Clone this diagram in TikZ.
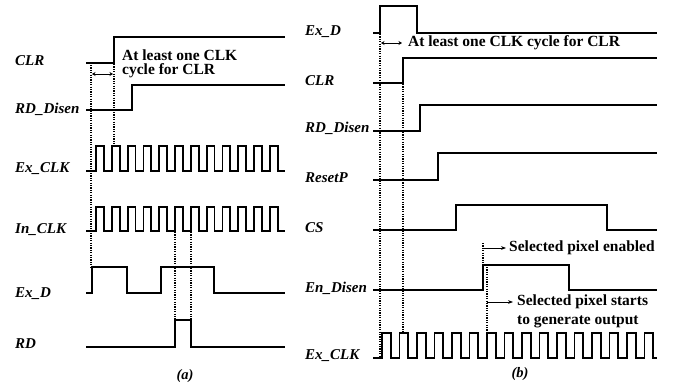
\documentclass[tikz,border=0pt]{standalone}
\usepackage{fontspec}
\setmainfont{Liberation Serif}
\usetikzlibrary{arrows.meta}

\begin{document}
\begin{tikzpicture}[x=1pt, y=-1pt,
  wave/.style={line width=1.8pt},
  guide/.style={line width=1.3pt, dash pattern=on 1.2pt off 1.2pt},
  lbl/.style={anchor=base west, inner sep=0pt, font=\fontsize{15}{15}\selectfont\bfseries\itshape},
  note/.style={anchor=north west, inner sep=0pt, align=left, font=\fontsize{15.5}{14}\selectfont\bfseries},
  captext/.style={inner sep=0pt, font=\fontsize{14.5}{14.5}\selectfont\bfseries\itshape},
  span/.style={line width=1pt, {Stealth[length=3.5pt,width=4pt]}-{Stealth[length=3.5pt,width=4pt]}, shorten <=1pt, shorten >=1pt},
  hint/.style={line width=1pt, -{Stealth[length=5pt]}}]
\useasboundingbox[fill=white] (0,0) rectangle (678,389);

% (a)
\node[lbl] (clrA) at (15,65) {CLR};
\node[lbl] (rdA) at (15,113) {RD\_Disen};
\node[lbl] (exclkA) at (15,172) {Ex\_CLK};
\node[lbl] (inclkA) at (15,233) {In\_CLK};
\node[lbl] (exdA) at (15,297) {Ex\_D};
\node[lbl] (rdoutA) at (15,348) {RD};

\draw[wave] (86,63) -- (114,63) -- (114,37) -- (285,37);
\draw[wave] (86,110) -- (132,110) -- (132,85) -- (285,85);
\draw[wave] (86,171) \foreach \k in {0,...,11} {
  -- ({96+15.8*\k},171) -- ({96+15.8*\k},146) -- ({103.9+15.8*\k},146) -- ({103.9+15.8*\k},171)} -- (285,171);
\draw[wave] (86,231) \foreach \k in {0,...,11} {
  -- ({96+15.8*\k},231) -- ({96+15.8*\k},207) -- ({103.9+15.8*\k},207) -- ({103.9+15.8*\k},231)} -- (285,231);
\draw[wave] (86,293) -- (92,293) -- (92,267) -- (127,267) -- (127,293) -- (161,293) -- (161,267)
  -- (214,267) -- (214,293) -- (285,293);
\draw[wave] (86,347) -- (175,347) -- (175,320) -- (191,320) -- (191,347) -- (285,347);

\coordinate (gA1) at (91,65);
\coordinate (gA2) at (114,64);
\draw[guide] (gA1) -- (91,267);
\draw[guide] (gA2) -- (114,146);
\draw[guide] (175,232) -- (175,320);
\draw[guide] (191,232) -- (191,320);
\draw[span] (gA1 |- 0,74) -- (gA2 |- 0,74);
\node[note] (minA) at (122,50) {At least one CLK\\cycle for CLR};
\node[captext] (capA) at (185,376) {(a)};

% (b)
\node[lbl] (exdB) at (305,35) {Ex\_D};
\node[lbl] (clrB) at (305,85) {CLR};
\node[lbl] (rdB) at (305,132) {RD\_Disen};
\node[lbl] (rstB) at (305,182) {ResetP};
\node[lbl] (csB) at (305,232) {CS};
\node[lbl] (enB) at (305,292) {En\_Disen};
\node[lbl] (exclkB) at (305,359) {Ex\_CLK};

\draw[wave] (373,33) -- (380,33) -- (380,6) -- (417,6) -- (417,33) -- (657,33);
\draw[wave] (373,83) -- (403,83) -- (403,58) -- (657,58);
\draw[wave] (373,131) -- (420,131) -- (420,105) -- (657,105);
\draw[wave] (373,180) -- (438,180) -- (438,153) -- (657,153);
\draw[wave] (373,230) -- (456,230) -- (456,205) -- (607,205) -- (607,230) -- (657,230);
\draw[wave] (373,290) -- (483,290) -- (483,265) -- (569,265) -- (569,290) -- (657,290);
\draw[wave] (373,358) \foreach \k in {0,...,15} {
  -- ({382+17.5*\k},358) -- ({382+17.5*\k},333) -- ({390.75+17.5*\k},333) -- ({390.75+17.5*\k},358)} -- (657,358);

\coordinate (gB1) at (380,34);
\coordinate (gB2) at (403,84);
\coordinate (gB3) at (483,243);
\coordinate (gB4) at (487,267);
\draw[guide] (gB1) -- (380,358);
\draw[guide] (gB2) -- (403,333);
\draw[guide] (gB3) -- (483,265);
\draw[guide] (gB4) -- (487,333);
\draw[span] (gB1 |- 0,43) -- (gB2 |- 0,43);
\node[note, anchor=west] (minB) at (408,43) {At least one CLK cycle for CLR};
\draw[hint] (gB3 |- 0,248) -- (506,248);
\node[note, anchor=west] (selB) at (509,248) {Selected pixel enabled};
\draw[hint] (gB4 |- 0,302) -- (513,302);
\node[note, anchor=north west, font=\fontsize{15.5}{19}\selectfont\bfseries] (outB) at (517,295) {Selected pixel starts\\to generate output};
\node[captext] (capB) at (520,374) {(b)};
\end{tikzpicture}
\end{document}
